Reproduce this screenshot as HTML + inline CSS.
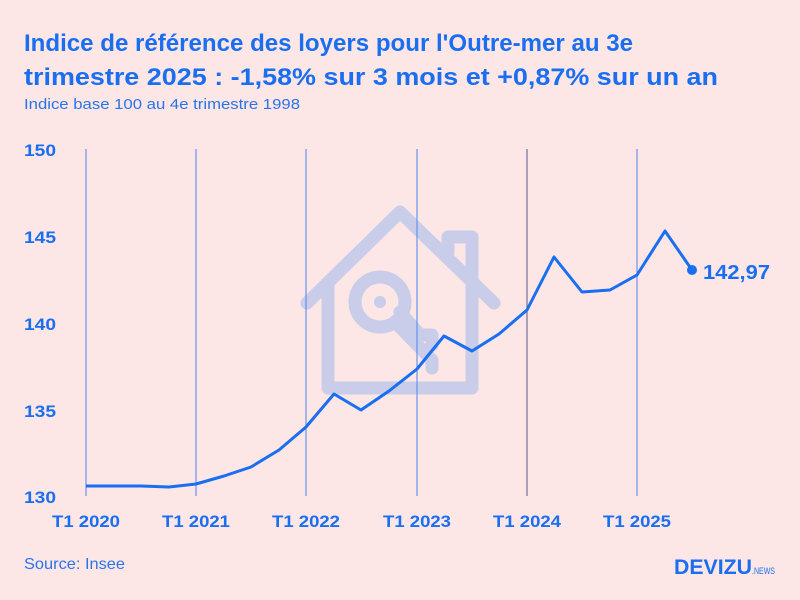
<!DOCTYPE html>
<html><head><meta charset="utf-8"><style>
body{margin:0;width:800px;height:600px;background:#fce6e6;font-family:"Liberation Sans",sans-serif;overflow:hidden;position:relative}
</style></head><body>
<svg width="800" height="600" style="position:absolute;left:0;top:0" font-family="Liberation Sans, sans-serif">
<text x="24" y="51" fill="#1a6ef0" font-weight="bold" font-size="24.5" textLength="609" lengthAdjust="spacingAndGlyphs">Indice de référence des loyers pour l'Outre-mer au 3e</text>
<text x="24" y="85" fill="#1a6ef0" font-weight="bold" font-size="24.5" textLength="694" lengthAdjust="spacingAndGlyphs">trimestre 2025 : -1,58% sur 3 mois et +0,87% sur un an</text>
<text x="24" y="109" fill="#2a74e8" font-size="15" textLength="276" lengthAdjust="spacingAndGlyphs">Indice base 100 au 4e trimestre 1998</text>
<g stroke="#c9cde9" stroke-width="13" fill="none" stroke-linecap="round" stroke-linejoin="round">
<polyline points="307,303 400,212 494,303"/>
<polyline points="328,285 328,388 472,388 472,237 448,237 448,252"/>
<circle cx="380" cy="302" r="25"/>
<polyline points="395,322 432,360 432,368"/>
<polyline points="400,312 420,335 432,335 432,345"/>
</g>
<circle cx="380" cy="302" r="6" fill="#c9cde9"/>
<g stroke="#4a86ec" stroke-width="1">
<line x1="86" y1="149" x2="86" y2="496"/><line x1="196" y1="149" x2="196" y2="496"/>
<line x1="306" y1="149" x2="306" y2="496"/><line x1="417" y1="149" x2="417" y2="496"/>
<line x1="527" y1="149" x2="527" y2="496" stroke="#555a8a"/><line x1="637" y1="149" x2="637" y2="496"/>
</g>
<g fill="#1a6ef0" font-weight="bold" font-size="17">
<text x="24" y="156" textLength="32" lengthAdjust="spacingAndGlyphs">150</text><text x="24" y="243" textLength="32" lengthAdjust="spacingAndGlyphs">145</text><text x="24" y="330" textLength="32" lengthAdjust="spacingAndGlyphs">140</text><text x="24" y="417" textLength="32" lengthAdjust="spacingAndGlyphs">135</text><text x="24" y="503" textLength="32" lengthAdjust="spacingAndGlyphs">130</text>
<text x="52" y="527" textLength="68" lengthAdjust="spacingAndGlyphs">T1 2020</text><text x="162" y="527" textLength="68" lengthAdjust="spacingAndGlyphs">T1 2021</text><text x="272" y="527" textLength="68" lengthAdjust="spacingAndGlyphs">T1 2022</text><text x="383" y="527" textLength="68" lengthAdjust="spacingAndGlyphs">T1 2023</text><text x="493" y="527" textLength="68" lengthAdjust="spacingAndGlyphs">T1 2024</text><text x="603" y="527" textLength="68" lengthAdjust="spacingAndGlyphs">T1 2025</text>
<text x="703" y="279" font-size="20" textLength="67" lengthAdjust="spacingAndGlyphs">142,97</text>
</g>
<polyline fill="none" stroke="#1a6ef0" stroke-width="3" stroke-linejoin="round" points="86,486 114,486 141,486 169,487 196,484 224,476 251,467 279,450 306,427 334,394 361,410 389,391 417,369 444,336 472,351 499,334 527,310 554,257 582,292 610,290 637,275 665,231 692,270"/>
<circle cx="692" cy="270" r="5" fill="#1a6ef0"/>
<text x="24" y="569" fill="#2a74e8" font-size="16" textLength="101" lengthAdjust="spacingAndGlyphs">Source: Insee</text>
<text x="674" y="574" fill="#1a6ef0" font-size="21" font-weight="bold" textLength="78" lengthAdjust="spacingAndGlyphs">DEVIZU</text>
<text x="752" y="574" fill="#1a6ef0" font-size="9" textLength="23" lengthAdjust="spacingAndGlyphs">.NEWS</text>
</svg>
</body></html>
